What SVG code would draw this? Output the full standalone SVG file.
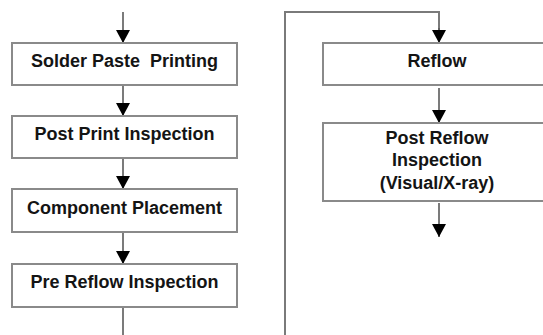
<svg xmlns="http://www.w3.org/2000/svg" width="543" height="335" viewBox="0 0 543 335">
<style>
.box{fill:#fff;stroke:#8a8a8a;stroke-width:2}
.t{font-family:"Liberation Sans",Arial,sans-serif;font-weight:bold;font-size:18px;fill:#141414;text-anchor:middle}
.c{fill:none;stroke:#5a5a5a;stroke-width:1.6}
.loop{fill:none;stroke:#7a7a7a;stroke-width:2}
</style>
<defs>
<marker id="ah" markerUnits="userSpaceOnUse" markerWidth="13" markerHeight="14" viewBox="0 0 13 14" refX="13" refY="7" orient="auto">
<path d="M0,0 L13,7 L0,14 z" fill="#000"/>
</marker>
</defs>
<rect width="543" height="335" fill="#fff"/>
<g id="connectors">
<path class="c" d="M123,12 V43" marker-end="url(#ah)"/>
<path class="c" d="M123,85 V116" marker-end="url(#ah)"/>
<path class="c" d="M123,158 V189" marker-end="url(#ah)"/>
<path class="c" d="M123,232 V264" marker-end="url(#ah)"/>
<path class="c" d="M123,307 V336"/>
<path class="loop" d="M285,336 V12 H439 V30"/>
<path class="c" d="M439,28 V43" marker-end="url(#ah)"/>
<path class="c" d="M439,88 V123" marker-end="url(#ah)"/>
<path class="c" d="M439,203 V237" marker-end="url(#ah)"/>
</g>
<g id="solder-paste-printing">
<rect class="box" x="12" y="43" width="225" height="42"/>
<text class="t" x="124.5" y="66.5" xml:space="preserve">Solder Paste  Printing</text>
</g>
<g id="post-print-inspection">
<rect class="box" x="12" y="116" width="225" height="42"/>
<text class="t" x="124.5" y="140">Post Print Inspection</text>
</g>
<g id="component-placement">
<rect class="box" x="12" y="189" width="225" height="43"/>
<text class="t" x="124.5" y="214">Component Placement</text>
</g>
<g id="pre-reflow-inspection">
<rect class="box" x="12" y="264" width="225" height="43"/>
<text class="t" x="124.5" y="288">Pre Reflow Inspection</text>
</g>
<g id="reflow">
<rect class="box" x="323" y="43" width="230" height="42"/>
<text class="t" x="437" y="66.5">Reflow</text>
</g>
<g id="post-reflow-inspection">
<rect class="box" x="323" y="123" width="230" height="78"/>
<text class="t" x="437" y="143.5">Post Reflow</text>
<text class="t" x="437" y="166">Inspection</text>
<text class="t" x="437" y="188.5">(Visual/X-ray)</text>
</g>
</svg>
